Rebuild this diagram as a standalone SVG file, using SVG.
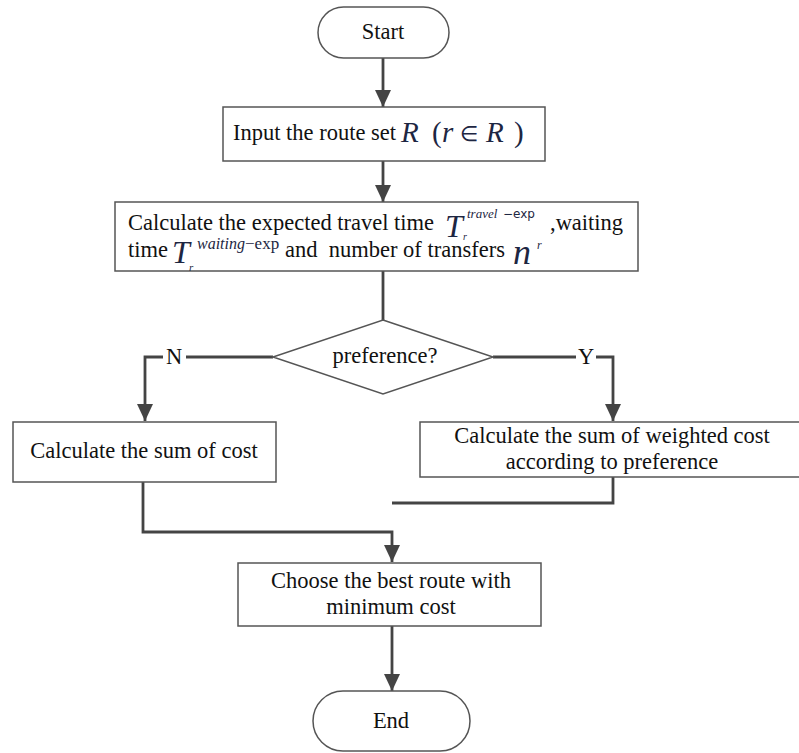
<svg xmlns="http://www.w3.org/2000/svg" width="799" height="753" viewBox="0 0 799 753">
<style>
.box{fill:#fff;stroke:#555;stroke-width:1.5}
.t{font-family:"Liberation Serif",serif;font-size:22.5px;fill:#111}
.m{font-family:"Liberation Serif",serif;font-style:italic;fill:#1d2642}
.n{font-family:"Liberation Serif",serif;fill:#1d2642}
.c{fill:none;stroke:#444;stroke-width:2.8}
</style>
<defs>
<marker id="a" viewBox="0 0 17 16" refX="17" refY="8" markerWidth="17" markerHeight="16" markerUnits="userSpaceOnUse" orient="auto">
<path d="M0,0 L17,8 L0,16 Z" fill="#444"/>
</marker>
</defs>
<g id="connectors">
<path class="c" d="M383,58 V107" marker-end="url(#a)"/>
<path class="c" d="M383,161 V202" marker-end="url(#a)"/>
<path class="c" d="M383,271 V320"/>
<path class="c" d="M273,357 H186 M163,357 H145 V421" marker-end="url(#a)"/>
<path class="c" d="M493,357 H576 M596,357 H613 V421" marker-end="url(#a)"/>
<path class="c" d="M613,477 V503 H392"/>
<path class="c" d="M143,482 V532 H392 V562" marker-end="url(#a)"/>
<path class="c" d="M392,626 V691" marker-end="url(#a)"/>
<text class="t" x="174" y="364" text-anchor="middle">N</text>
<text class="t" x="586" y="364" text-anchor="middle">Y</text>
</g>
<g id="start">
<rect class="box" x="318" y="7" width="131" height="51" rx="25.5"/>
<text class="t" x="383" y="39" text-anchor="middle">Start</text>
</g>
<g id="input">
<rect class="box" x="223" y="107" width="322" height="54"/>
<text class="t" x="233" y="140">Input the route set</text>
<text class="m" x="401" y="142" style="font-size:29px">R</text>
<text class="n" x="432" y="142" style="font-size:29px">(</text>
<text class="m" x="442" y="142" style="font-size:29px">r</text>
<text class="n" x="460" y="141" style="font-size:21px">∈</text>
<text class="m" x="486" y="142" style="font-size:29px">R</text>
<text class="n" x="514" y="142" style="font-size:29px">)</text>
</g>
<g id="calc">
<rect class="box" x="115" y="202" width="523" height="69"/>
<text class="t" x="128" y="230">Calculate the expected travel time</text>
<text class="m" x="445" y="237" style="font-size:32px">T</text>
<text class="m" x="467" y="218" style="font-size:13px">travel</text>
<text class="n" x="503" y="218" style="font-size:12px;font-family:'DejaVu Sans',sans-serif">−exp</text>
<text class="m" x="463" y="240" style="font-size:10px">r</text>
<text class="t" x="550" y="230">,waiting</text>
<text class="t" x="128" y="257">time</text>
<text class="m" x="172" y="263" style="font-size:32px">T</text>
<text class="m" x="197" y="249" style="font-size:16px">waiting</text>
<text class="n" x="245" y="249" style="font-size:17px">−exp</text>
<text class="m" x="189" y="271" style="font-size:11px">r</text>
<text class="t" x="285" y="257" style="white-space:pre">and  number of transfers</text>
<text class="m" x="513" y="264" style="font-size:36px">n</text>
<text class="m" x="537" y="249" style="font-size:12px">r</text>
</g>
<g id="preference">
<polygon class="box" points="383,320 493,357 383,394 273,357"/>
<text class="t" x="385" y="363" text-anchor="middle">preference?</text>
</g>
<g id="sumcost">
<rect class="box" x="13" y="422" width="263" height="60"/>
<text class="t" x="144" y="458" text-anchor="middle">Calculate the sum of cost</text>
</g>
<g id="weighted">
<rect class="box" x="420" y="422" width="390" height="55"/>
<text class="t" x="612" y="443" text-anchor="middle">Calculate the sum of weighted cost</text>
<text class="t" x="612" y="469" text-anchor="middle">according to preference</text>
</g>
<g id="choose">
<rect class="box" x="238" y="563" width="303" height="63"/>
<text class="t" x="391" y="588" text-anchor="middle">Choose the best route with</text>
<text class="t" x="391" y="614" text-anchor="middle">minimum cost</text>
</g>
<g id="end">
<rect class="box" x="313" y="691" width="157" height="60" rx="30"/>
<text class="t" x="391" y="728" text-anchor="middle">End</text>
</g>
</svg>
